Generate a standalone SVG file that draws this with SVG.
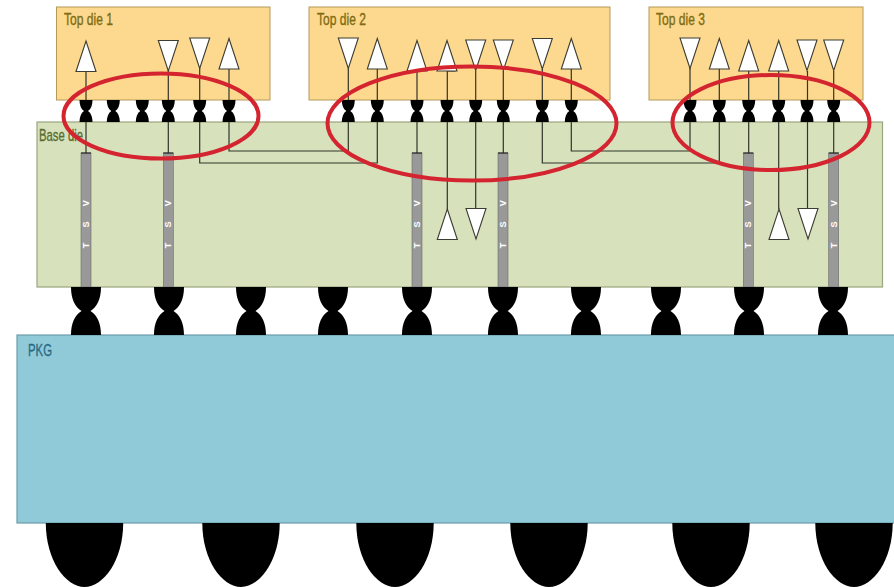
<svg xmlns="http://www.w3.org/2000/svg" width="894" height="587" viewBox="0 0 894 587">
<style>
.top{fill:#fdd98f;stroke:#b39a5a;stroke-width:1}
.base{fill:#d7e2bd;stroke:#9aa67c;stroke-width:1.2}
.pkg{fill:#90cad9;stroke:#6b9cab;stroke-width:1.2}
.lbl{font-family:"Liberation Sans",Arial,sans-serif;font-size:17px;stroke-width:.35}
.tl{fill:#7d6c12;stroke:#7d6c12}.bl{fill:#5a6e30;stroke:#5a6e30}.pl{fill:#2b6b82;stroke:#2b6b82}
.wire{fill:none;stroke:#33342a;stroke-width:1.2}
.tri{fill:#fff;stroke:#3c3c32;stroke-width:1.1}
.tsv{fill:#999;stroke:#6a6a6a;stroke-width:.6}
.cap{stroke:#111;stroke-width:1}
.tt{font-family:"Liberation Sans",Arial,sans-serif;font-size:9px;font-weight:bold;fill:#fff;letter-spacing:6.4px;text-anchor:middle}
.ring{fill:none;stroke:#d42430;stroke-width:4}
</style>
<defs>
<path id="mb" d="M-6.500 0H6.500C6.500 5 5 9 2 11C5 13 6.500 17 6.500 22H-6.500C-6.500 17 -5 13 -2 11C-5 9 -6.500 5 -6.500 0Z" fill="#000"/>
<path id="mid" d="M-15 0H15C15 12 11 20 4.500 24C11 28 15 36 15 48H-15C-15 36 -11 28 -4.500 24C-11 20 -15 12 -15 0Z" fill="#000"/>
<path id="ball" d="M-38.700 0C-38.700 37 -19 64 0 64C19 64 38.700 37 38.700 0Z" fill="#000"/>
<path id="up" class="tri" d="M0 0L10 30.500H-10Z"/>
<path id="dn" class="tri" d="M-10 0H10L0 30.500Z"/>
<g id="t">
<rect class="tsv" x="-5" y="0" width="10" height="134"/>
<path class="cap" d="M-5 0H5"/>
<text class="tt" transform="translate(1.500 68) rotate(-90)" y="1.500">T S V</text>
</g>
</defs>
<rect width="894" height="587" fill="#fff"/>

<g id="top-die-1"><rect class="top" x="56.500" y="7" width="213.500" height="93"/><text class="lbl tl" x="64" y="25" textLength="49" lengthAdjust="spacingAndGlyphs">Top die 1</text></g>
<g id="top-die-2"><rect class="top" x="309" y="7" width="301" height="93"/><text class="lbl tl" x="317" y="25" textLength="49" lengthAdjust="spacingAndGlyphs">Top die 2</text></g>
<g id="top-die-3"><rect class="top" x="649" y="7" width="214" height="93"/><text class="lbl tl" x="656" y="25" textLength="49" lengthAdjust="spacingAndGlyphs">Top die 3</text></g>
<g id="base-die"><rect class="base" x="37" y="122" width="845.500" height="165"/><text class="lbl bl" x="39" y="141" textLength="44" lengthAdjust="spacingAndGlyphs">Base die</text></g>
<g id="pkg"><rect class="pkg" x="17" y="335" width="880" height="188"/><text class="lbl pl" x="28" y="356" textLength="24" lengthAdjust="spacingAndGlyphs">PKG</text></g>

<g id="connectors">
<path class="wire" d="M86 71V153M168.300 70V153M199.700 68V163H377.300V69M229 69V151H348.300V68"/>
<path class="wire" d="M417 71V153M447.300 71V209M475.700 71V208M503.300 71V153M447 71H455V68"/>
<path class="wire" d="M542.300 69V163H719.300V69M571.300 69V151H690V68"/>
<path class="wire" d="M748.700 71V153M778.700 71V209M807.500 71V208M833.700 71V153"/>
</g>

<g id="tsvs">
<use href="#t" x="86" y="153"/>
<use href="#t" x="168.300" y="153"/>
<use href="#t" x="417" y="153"/>
<use href="#t" x="503" y="153"/>
<use href="#t" x="748.300" y="153"/>
<use href="#t" x="833.700" y="153"/>
</g>

<g id="buffers">
<use href="#up" x="86" y="41"/><use href="#dn" x="168.300" y="40.500"/><use href="#dn" x="199.700" y="38"/><use href="#up" x="229" y="38.500"/>
<use href="#dn" x="348.300" y="38"/><use href="#up" x="377.300" y="38.500"/><use href="#up" x="417" y="40.500"/><use href="#up" x="447" y="40.500"/><use href="#dn" x="475.700" y="40"/><use href="#dn" x="503.300" y="40"/><use href="#dn" x="542.300" y="38.500"/><use href="#up" x="571.300" y="38.500"/>
<use href="#dn" x="690" y="38"/><use href="#up" x="719.300" y="38.500"/><use href="#up" x="748.700" y="40.500"/><use href="#up" x="778.700" y="40.500"/><use href="#dn" x="807" y="40"/><use href="#dn" x="833.700" y="40"/>
<use href="#up" x="447.300" y="209"/><use href="#dn" x="476" y="208.500"/><use href="#up" x="779" y="209"/><use href="#dn" x="808" y="208.500"/>
</g>

<g id="micro-bumps">
<use href="#mb" x="86" y="100"/><use href="#mb" x="113.300" y="100"/><use href="#mb" x="142.300" y="100"/><use href="#mb" x="168.300" y="100"/><use href="#mb" x="199.700" y="100"/><use href="#mb" x="229" y="100"/>
<use href="#mb" x="348.300" y="100"/><use href="#mb" x="377.300" y="100"/><use href="#mb" x="417" y="100"/><use href="#mb" x="447" y="100"/><use href="#mb" x="475.700" y="100"/><use href="#mb" x="503.300" y="100"/><use href="#mb" x="542.300" y="100"/><use href="#mb" x="571.300" y="100"/>
<use href="#mb" x="690" y="100"/><use href="#mb" x="719.300" y="100"/><use href="#mb" x="748.700" y="100"/><use href="#mb" x="778.700" y="100"/><use href="#mb" x="807" y="100"/><use href="#mb" x="833.700" y="100"/>
</g>

<g id="mid-bumps">
<use href="#mid" x="86" y="287"/><use href="#mid" x="169" y="287"/><use href="#mid" x="251" y="287"/><use href="#mid" x="333" y="287"/><use href="#mid" x="417" y="287"/><use href="#mid" x="503" y="287"/><use href="#mid" x="586" y="287"/><use href="#mid" x="666" y="287"/><use href="#mid" x="749" y="287"/><use href="#mid" x="833" y="287"/>
</g>

<g id="balls">
<use href="#ball" x="84.500" y="523"/><use href="#ball" x="241" y="523"/><use href="#ball" x="395" y="523"/><use href="#ball" x="549" y="523"/><use href="#ball" x="711" y="523"/><use href="#ball" x="854" y="523"/>
</g>

<g id="highlights">
<ellipse class="ring" cx="161" cy="116" rx="97.500" ry="42.500"/>
<ellipse class="ring" cx="472" cy="123.500" rx="144.500" ry="57"/>
<ellipse class="ring" cx="771" cy="122.500" rx="98.500" ry="47.500"/>
</g>
</svg>
